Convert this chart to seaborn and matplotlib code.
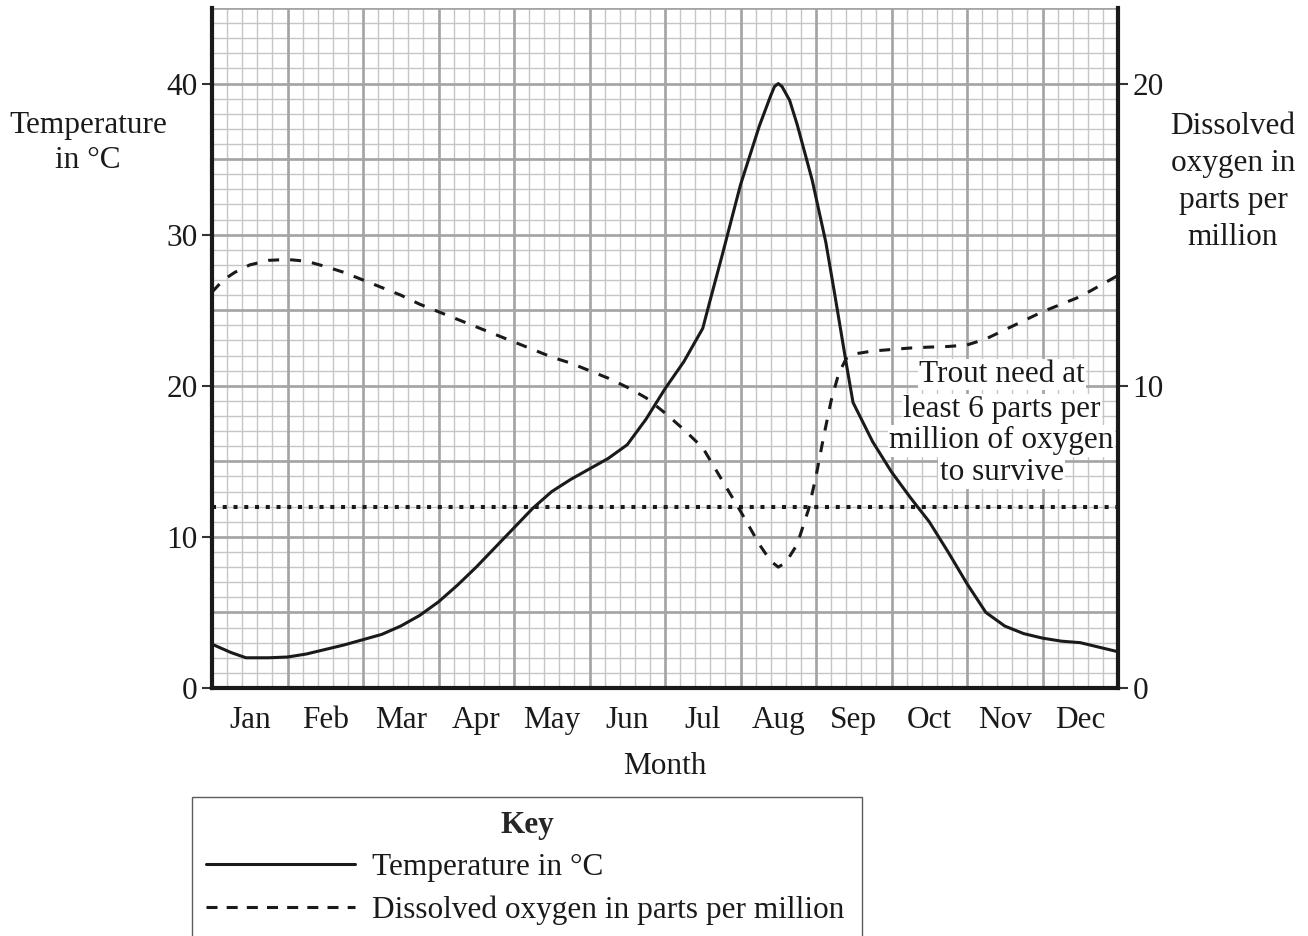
import numpy as np
import pandas as pd
import matplotlib
matplotlib.use("Agg")
import matplotlib.pyplot as plt
from matplotlib.lines import Line2D
import seaborn as sns

# ---------------- data ----------------
months = ["Jan", "Feb", "Mar", "Apr", "May", "Jun",
          "Jul", "Aug", "Sep", "Oct", "Nov", "Dec"]

# time axis in months since 1 Jan (0 .. 12)
temp_t = [0.0, 0.25, 0.45, 0.75, 1.0, 1.25, 1.5, 1.75, 2.0, 2.25, 2.5, 2.75,
          3.0, 3.25, 3.5, 3.75, 4.0, 4.25, 4.5, 4.75, 5.0, 5.25, 5.5, 5.75,
          6.0, 6.25, 6.5, 6.6, 6.75, 7.0, 7.25, 7.4, 7.45, 7.5, 7.55, 7.65,
          7.75, 7.95, 8.13, 8.25, 8.4, 8.49, 8.75, 9.0, 9.25, 9.5, 9.75,
          10.0, 10.25, 10.5, 10.75, 11.0, 11.25, 11.5, 11.75, 12.0]
temp_c = [2.9, 2.35, 2.0, 2.0, 2.05, 2.25, 2.55, 2.85, 3.2, 3.55, 4.1, 4.8,
          5.7, 6.8, 8.0, 9.3, 10.6, 11.9, 13.0, 13.8, 14.5, 15.2, 16.1, 17.8,
          19.8, 21.6, 23.8, 25.7, 28.5, 33.3, 37.2, 39.2, 39.8, 40.0, 39.8, 38.9,
          37.3, 33.6, 29.5, 26.0, 21.5, 18.9, 16.3, 14.3, 12.6, 11.0, 9.0,
          6.9, 5.0, 4.1, 3.6, 3.3, 3.1, 3.0, 2.7, 2.4]

oxy_t = [0.0, 0.15, 0.3, 0.5, 0.75, 1.0, 1.25, 1.5, 1.75, 2.0, 2.25, 2.5,
         2.75, 3.0, 3.25, 3.5, 3.75, 4.0, 4.25, 4.5, 4.75, 5.0, 5.25, 5.5,
         5.75, 6.0, 6.25, 6.5, 6.75, 7.0, 7.25, 7.4, 7.5, 7.6, 7.75, 7.9,
         8.0, 8.1, 8.2, 8.3, 8.4, 8.5, 8.75, 9.0, 9.25, 9.5, 9.75, 10.0,
         10.25, 10.5, 10.75, 11.0, 11.25, 11.5, 11.75, 12.0]
oxy_ppm = [13.1, 13.5, 13.75, 14.0, 14.15, 14.18, 14.12, 13.95, 13.75, 13.5, 13.25, 13.0,
           12.7, 12.45, 12.2, 11.95, 11.7, 11.45, 11.2, 10.95, 10.75, 10.5, 10.25, 9.95,
           9.6, 9.1, 8.55, 7.95, 6.9, 5.85, 4.75, 4.2, 4.0, 4.15, 4.75, 5.9,
           7.0, 8.3, 9.5, 10.4, 10.9, 11.05, 11.15, 11.2, 11.25, 11.28, 11.3, 11.35,
           11.55, 11.85, 12.15, 12.45, 12.7, 12.95, 13.3, 13.65]

trout_min_ppm = 6
left_ticks = [0, 10, 20, 30, 40]
right_ticks = [0, 10, 20]
note_lines = ["Trout need at", "least 6 parts per", "million of oxygen", "to survive"]

temp_df = pd.DataFrame({"t": temp_t, "temp": temp_c})
oxy_df = pd.DataFrame({"t": oxy_t, "oxy": oxy_ppm})

# ---------------- style ----------------
sns.set_style("white")
plt.rcParams["font.family"] = ["Liberation Serif", "DejaVu Serif"]
FS = 22.5
INK = "#1a1a1a"

fig = plt.figure(figsize=(13.08, 9.36), dpi=100)
ax = fig.add_axes([212 / 1308, 248 / 936, 906 / 1308, 680 / 936])
ax.set_xlim(0, 12)
ax.set_ylim(0, 45)

# graph-paper grid
minor_c, major_c = "#c6c6c6", "#a4a4a4"
ax.hlines(np.arange(0, 45.01, 1), 0, 12, color=minor_c, lw=1.0, zorder=0)
ax.vlines(np.arange(0, 12.01, 0.2), 0, 45, color=minor_c, lw=1.0, zorder=0)
ax.hlines(np.arange(0, 45.01, 5), 0, 12, color=major_c, lw=1.9, zorder=0.5)
ax.vlines(np.arange(0, 12.01, 1), 0, 45, color=major_c, lw=1.9, zorder=0.5)

# temperature line
sns.lineplot(data=temp_df, x="t", y="temp", ax=ax, color=INK, lw=2.2,
             sort=False, estimator=None, zorder=3)

# twin axis for oxygen
ax2 = ax.twinx()
ax2.set_ylim(0, 22.5)
sns.lineplot(data=oxy_df, x="t", y="oxy", ax=ax2, color=INK, lw=2.2,
             sort=False, estimator=None, zorder=3)
ax2.get_lines()[0].set_linestyle((0, (3.6, 3.6)))
ax2.get_lines()[0].set_dash_capstyle("butt")

# dotted threshold line
ax2.axhline(trout_min_ppm, color=INK, lw=2.9, linestyle=(0, (1, 1.67)),
            dash_capstyle="butt", zorder=4)

# spines
for s in ["top", "right"]:
    ax.spines[s].set_visible(False)
for s in ["left", "bottom"]:
    ax.spines[s].set_color(INK)
    ax.spines[s].set_linewidth(3.0)
for s in ["top", "left", "bottom"]:
    ax2.spines[s].set_visible(False)
ax2.spines["right"].set_color(INK)
ax2.spines["right"].set_linewidth(3.0)

# ticks
ax.set_yticks(left_ticks)
ax.set_yticklabels([str(v) for v in left_ticks])
ax.tick_params(axis="y", which="major", direction="out", length=7.5, width=1.5,
               color="#333333", labelsize=FS, pad=3, labelcolor=INK)
ax.set_xticks(range(13))
ax.set_xticklabels([""] * 13)
ax.tick_params(axis="x", which="major", direction="out", length=6.5, width=1.5,
               color="#333333")
ax.set_xticks(np.arange(0.5, 12, 1), minor=True)
ax.set_xticklabels(months, minor=True)
ax.tick_params(axis="x", which="minor", length=0, labelsize=FS, pad=13,
               labelcolor=INK)
ax.set_xlabel("")
ax.set_ylabel("")

ax2.set_yticks(right_ticks)
ax2.set_yticklabels([str(v) for v in right_ticks])
ax2.tick_params(axis="y", direction="out", length=7.5, width=1.5,
                color="#333333", labelsize=FS, pad=3, labelcolor=INK)
ax2.set_ylabel("")

# axis titles
fig.text(88 / 1308, 1 - 143 / 936, "Temperature\nin °C", ha="center", va="center",
         fontsize=FS, color=INK, linespacing=1.24)
fig.text(1233 / 1308, 1 - 182 / 936, "Dissolved\noxygen in\nparts per\nmillion",
         ha="center", va="center", fontsize=FS, color=INK, linespacing=1.36)
fig.text(665 / 1308, 1 - 766 / 936, "Month", ha="center", va="center",
         fontsize=FS, color=INK)

# annotation
note_y = [20.73, 18.4, 16.36, 14.24]
for txt, yy in zip(note_lines, note_y):
    ax.text(10.46, yy, txt, ha="center", va="center", fontsize=FS, color=INK,
            zorder=6, bbox=dict(facecolor="white", edgecolor="none", pad=1.0))

# key
handles = [Line2D([], [], color=INK, lw=2.2),
           Line2D([], [], color=INK, lw=2.2, linestyle=(0, (3.6, 3.0)),
                  dash_capstyle="butt")]
leg = fig.legend(handles, ["Temperature in °C", "Dissolved oxygen in parts per million"],
                 loc="upper left", bbox_to_anchor=(192 / 1308, 0, 670 / 1308, 1 - 797 / 936),
                 mode="expand", borderaxespad=0, fontsize=FS, title="Key",
                 title_fontproperties={"weight": "bold", "size": FS},
                 handlelength=4.75, handletextpad=0.55, labelspacing=0.42,
                 borderpad=0.45, fancybox=False, frameon=True)
leg.get_frame().set_edgecolor("#333333")
leg.get_frame().set_linewidth(1.0)
for t in leg.get_texts():
    t.set_color(INK)

fig.savefig("out.png", dpi=100)
